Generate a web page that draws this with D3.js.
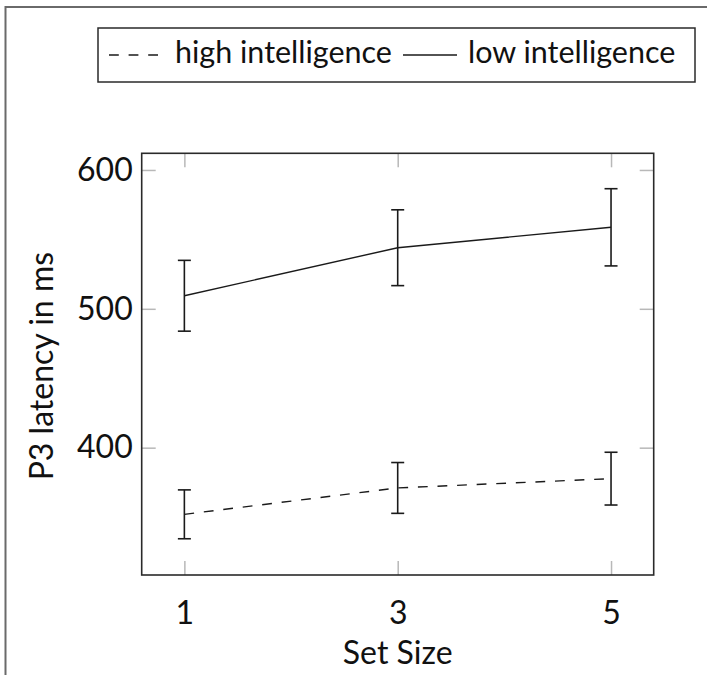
<!DOCTYPE html>
<html>
<head>
<meta charset="utf-8">
<script src="https://cdn.jsdelivr.net/npm/d3@7"></script>
<style>
  body { margin: 0; background: #fff; }
  svg { display: block; }
  text { font-family: Lato, "Open Sans", sans-serif; fill: #111; }
</style>
</head>
<body>
<svg id="chart" width="707" height="675"></svg>
<script>
// values
const setSizes = [1, 3, 5];
const highMean = [352, 371, 377.7];
const highErr = [17.6, 18.3, 19];
const lowMean = [509.4, 544, 558.7];
const lowErr = [25.5, 27.3, 27.8];
const yTicks = [400, 500, 600];
const seriesNames = ["high intelligence", "low intelligence"];

const INK = "#1a1a1a";
const TICK = "#b8b8b8";

const svg = d3.select("#chart");
const plot = { left: 141.7, right: 653.7, top: 153.3, bottom: 575 };

const x = d3.scaleLinear().domain([0.6, 5.4]).range([plot.left, plot.right]);
const y = d3.scaleLinear().domain([308.3, 612]).range([plot.bottom, plot.top]);

// outer frame, cut off on the right and bottom
svg.append("rect")
  .attr("x", 5.5).attr("y", 7)
  .attr("width", 760).attr("height", 760)
  .attr("fill", "none")
  .attr("stroke", "#6a6a6a")
  .attr("stroke-width", 2);

// ticks inside on all sides
const axisStyle = (g, labels) => {
  g.select(".domain").remove();
  g.selectAll(".tick line").attr("stroke", TICK).attr("stroke-width", 1.5);
  if (!labels) g.selectAll(".tick text").remove();
  g.selectAll(".tick text").attr("font-size", 32).attr("fill", "#111");
};

svg.append("g")
  .attr("transform", `translate(0,${plot.bottom})`)
  .call(d3.axisBottom(x).tickValues(setSizes).tickSize(-14).tickPadding(26).tickFormat(d3.format("d")))
  .call(axisStyle, true);

svg.append("g")
  .attr("transform", `translate(0,${plot.top})`)
  .call(d3.axisTop(x).tickValues(setSizes).tickSize(-14))
  .call(axisStyle, false);

svg.append("g")
  .attr("transform", `translate(${plot.left},0)`)
  .call(d3.axisLeft(y).tickValues(yTicks).tickSize(-14).tickPadding(9).tickFormat(d3.format("d")))
  .call(axisStyle, true);

svg.append("g")
  .attr("transform", `translate(${plot.right},0)`)
  .call(d3.axisRight(y).tickValues(yTicks).tickSize(-14))
  .call(axisStyle, false);

// box
svg.append("rect")
  .attr("x", plot.left).attr("y", plot.top)
  .attr("width", plot.right - plot.left).attr("height", plot.bottom - plot.top)
  .attr("fill", "none")
  .attr("stroke", "#2a2a2a")
  .attr("stroke-width", 1.6);

// axis labels
svg.append("text")
  .attr("x", (plot.left + plot.right) / 2)
  .attr("y", 664)
  .attr("text-anchor", "middle")
  .attr("font-size", 32)
  .text("Set Size");

svg.append("text")
  .attr("transform", `translate(45,${(plot.top + plot.bottom) / 2 + 2}) rotate(-90)`)
  .attr("text-anchor", "middle")
  .attr("dominant-baseline", "middle")
  .attr("font-size", 32)
  .text("P3 latency in ms");

// series
const series = [
  { name: seriesNames[0], mean: highMean, err: highErr, dash: "9.8,9.8" },
  { name: seriesNames[1], mean: lowMean, err: lowErr, dash: null },
];

const line = d3.line().x((d) => x(d.s)).y((d) => y(d.m));
const cap = 6.5;

series.forEach((sr) => {
  const pts = setSizes.map((s, i) => ({ s, m: sr.mean[i], e: sr.err[i] }));
  const g = svg.append("g");

  g.append("path")
    .datum(pts)
    .attr("d", line)
    .attr("fill", "none")
    .attr("stroke", INK)
    .attr("stroke-width", 1.4)
    .attr("stroke-dasharray", sr.dash);

  const bars = g.selectAll(".bar").data(pts).join("g").attr("class", "bar");
  bars.append("line")
    .attr("x1", (d) => x(d.s)).attr("x2", (d) => x(d.s))
    .attr("y1", (d) => y(d.m - d.e)).attr("y2", (d) => y(d.m + d.e));
  bars.append("line")
    .attr("x1", (d) => x(d.s) - cap).attr("x2", (d) => x(d.s) + cap)
    .attr("y1", (d) => y(d.m + d.e)).attr("y2", (d) => y(d.m + d.e));
  bars.append("line")
    .attr("x1", (d) => x(d.s) - cap).attr("x2", (d) => x(d.s) + cap)
    .attr("y1", (d) => y(d.m - d.e)).attr("y2", (d) => y(d.m - d.e));
  bars.selectAll("line").attr("stroke", INK).attr("stroke-width", 1.6);
});

// legend
const legend = svg.append("g");
legend.append("rect")
  .attr("x", 98).attr("y", 28)
  .attr("width", 597).attr("height", 54)
  .attr("fill", "#fff")
  .attr("stroke", "#2a2a2a")
  .attr("stroke-width", 1.5);

const legendItems = [
  { name: seriesNames[0], x1: 109, x2: 161, tx: 175, dash: "9.8,9.8" },
  { name: seriesNames[1], x1: 403, x2: 457, tx: 468, dash: null },
];
legendItems.forEach((it) => {
  legend.append("line")
    .attr("x1", it.x1).attr("x2", it.x2)
    .attr("y1", 55).attr("y2", 55)
    .attr("stroke", INK)
    .attr("stroke-width", 1.4)
    .attr("stroke-dasharray", it.dash);
  legend.append("text")
    .attr("x", it.tx).attr("y", 55)
    .attr("dominant-baseline", "middle")
    .attr("font-size", 30.5)
    .text(it.name);
});
</script>
</body>
</html>
